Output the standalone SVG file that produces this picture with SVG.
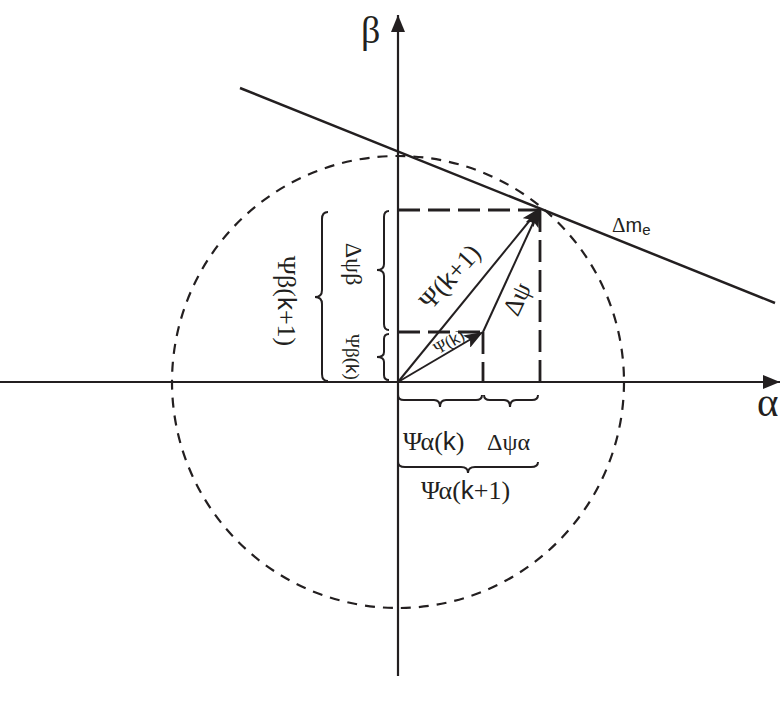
<svg xmlns="http://www.w3.org/2000/svg" width="781" height="704" viewBox="0 0 781 704">
<style>
.ln{stroke:#231f20;fill:none;stroke-linecap:butt}
.ax{stroke-width:2.2}
.dash{stroke-width:2.8;stroke-dasharray:22 8}
.circ{stroke-width:2.2;stroke-dasharray:10 8}
.br{stroke:#231f20;fill:none;stroke-width:2}
.t{font-family:"Liberation Serif","Times New Roman",serif;fill:#231f20}
.s{font-family:"Liberation Sans",Arial,sans-serif}
</style>
<defs>
<marker id="ah" markerUnits="userSpaceOnUse" markerWidth="18" markerHeight="14" refX="17" refY="7" orient="auto">
<path d="M0,0 L17,7 L0,14 z" fill="#231f20"/>
</marker>
<marker id="vh" markerUnits="userSpaceOnUse" markerWidth="20" markerHeight="14" refX="19" refY="7" orient="auto">
<path d="M0,0 L19,7 L0,14 L4,7 z" fill="#231f20"/>
</marker>
</defs>

<g id="circle"><circle class="ln circ" cx="398" cy="382" r="226"/></g>

<g id="axes">
<line class="ln ax" x1="0" y1="382" x2="780" y2="382" marker-end="url(#ah)"/>
<line class="ln ax" x1="398" y1="676" x2="398" y2="15" marker-end="url(#ah)"/>
<text class="t" x="361" y="43" font-size="38">β</text>
<text class="t" x="757" y="416" font-size="41">α</text>
</g>

<g id="tangent">
<line class="ln" stroke-width="2.5" x1="240" y1="88" x2="775" y2="303"/>
<text class="t" x="612" y="232" font-size="21">Δ<tspan class="s" font-size="20">m</tspan><tspan class="s" font-size="15" dy="3">e</tspan></text>
</g>

<g id="projections">
<line class="ln dash" x1="398" y1="210" x2="540" y2="210"/>
<line class="ln dash" x1="540" y1="210" x2="540" y2="382"/>
<line class="ln dash" x1="398" y1="332" x2="483" y2="332"/>
<line class="ln dash" x1="483" y1="332" x2="483" y2="382"/>
</g>

<g id="connectors">
<line class="ln" stroke-width="2" x1="398" y1="382" x2="540" y2="208" marker-end="url(#vh)"/>
<line class="ln" stroke-width="2" x1="398" y1="382" x2="483" y2="332" marker-end="url(#vh)"/>
<line class="ln" stroke-width="2" x1="483" y1="332" x2="540" y2="208" marker-end="url(#vh)"/>
</g>

<g id="vector-labels">
<text class="t" font-size="26" text-anchor="middle" dominant-baseline="central" transform="translate(450,277) rotate(-48)">Ψ(<tspan class="s">k</tspan>+1)</text>
<text class="t" font-size="26" text-anchor="middle" dominant-baseline="central" transform="translate(517,299) rotate(-65)">Δψ</text>
<text class="t" font-size="17" text-anchor="middle" dominant-baseline="central" transform="translate(449,342) rotate(-30)">Ψ(<tspan class="s">k</tspan>)</text>
</g>

<g id="braces-beta">
<path class="br" d="M389,211 Q384,211 384,217 L384,264 Q384,270 377,270 Q384,270 384,276 L384,324 Q384,330 389,330"/>
<path class="br" d="M389,334 Q384,334 384,339 L384,352 Q384,357 377,357 Q384,357 384,362 L384,375 Q384,380 389,380"/>
<path class="br" d="M328,212 Q322,212 322,219 L322,290 Q322,297 315,297 Q322,297 322,304 L322,374 Q322,381 328,381"/>
<text class="t" font-size="24" text-anchor="middle" transform="translate(346,264) rotate(90)">Δψβ</text>
<text class="t" font-size="19" text-anchor="middle" transform="translate(346,357) rotate(90)">Ψβ(<tspan class="s">k</tspan>)</text>
<text class="t" font-size="26" text-anchor="middle" transform="translate(278,301) rotate(90)">Ψβ(<tspan class="s">k</tspan>+1)</text>
</g>

<g id="braces-alpha">
<path class="br" d="M398,395 Q398,400 404,400 L434,400 Q440,400 440,407 Q440,400 446,400 L476,400 Q482,400 482,395"/>
<path class="br" d="M484,395 Q484,400 490,400 L504,400 Q510,400 510,407 Q510,400 516,400 L532,400 Q538,400 538,395"/>
<path class="br" d="M398,462 Q398,467 405,467 L461,467 Q468,467 468,473 Q468,467 475,467 L531,467 Q538,467 538,462"/>
<text class="t" x="403" y="450" font-size="26">Ψα(<tspan class="s">k</tspan>)</text>
<text class="t" x="487" y="450" font-size="24">Δψα</text>
<text class="t" x="421" y="499" font-size="26">Ψα(<tspan class="s">k</tspan>+1)</text>
</g>
</svg>
